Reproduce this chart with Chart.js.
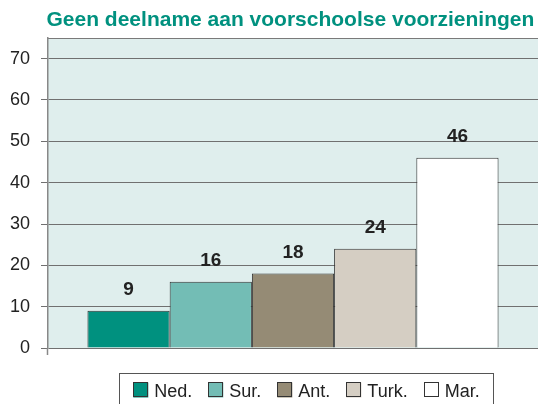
<!DOCTYPE html>
<html>
<head>
<meta charset="utf-8">
<script src="https://cdn.jsdelivr.net/npm/chart.js@4"></script>
<style>
  html, body { margin: 0; padding: 0; background: #ffffff; }
  #wrap { width: 538px; height: 404px; position: relative; overflow: hidden; }
</style>
</head>
<body>
<div id="wrap"><canvas id="c" width="538" height="404"></canvas></div>
<script>
const title = "Geen deelname aan voorschoolse voorzieningen";
const categories = [""];
const seriesNames = ["Ned.", "Sur.", "Ant.", "Turk.", "Mar."];
const seriesValues = [9, 16, 18, 24, 46];
const seriesColors = ["#00917f", "#73bdb5", "#958b75", "#d5cec3", "#ffffff"];
const yTicks = [0, 10, 20, 30, 40, 50, 60, 70];
const yMax = 75;

const FONT = "'Liberation Sans', Arial, Helvetica, sans-serif";

const bgPlugin = {
  id: 'bgPlugin',
  beforeDraw(chart) {
    const { ctx, chartArea: a } = chart;
    ctx.save();
    ctx.fillStyle = '#dfeeed';
    ctx.fillRect(a.left, a.top, a.right - a.left, a.bottom - a.top);
    ctx.strokeStyle = '#7a7a7a';
    ctx.lineWidth = 1;
    ctx.beginPath();
    ctx.moveTo(a.left, a.top + 0.5);
    ctx.lineTo(a.right, a.top + 0.5);
    ctx.stroke();
    ctx.restore();
  },
  afterDraw(chart) {
    const { ctx, chartArea: a } = chart;
    ctx.save();
    // small extension of the value axis below zero
    ctx.strokeStyle = '#888888';
    ctx.lineWidth = 1.5;
    ctx.beginPath();
    ctx.moveTo(a.left - 0.5, a.bottom);
    ctx.lineTo(a.left - 0.5, a.bottom + 7);
    ctx.stroke();
    // title
    ctx.fillStyle = '#00917f';
    ctx.font = 'bold 21px ' + FONT;
    ctx.textAlign = 'left';
    ctx.textBaseline = 'alphabetic';
    ctx.fillText(title, 46.5, 26);
    // legend frame
    const lx = 119.5, ly = 373.5, lw = 374, lh = 40;
    ctx.strokeStyle = '#555555';
    ctx.lineWidth = 1;
    ctx.strokeRect(lx, ly, lw, lh);
    ctx.font = '18px ' + FONT;
    const box = 15, gapText = 6, gapItem = 16;
    let total = 0;
    const widths = seriesNames.map(n => ctx.measureText(n).width);
    widths.forEach((w, i) => { total += box + gapText + w + (i < widths.length - 1 ? gapItem : 0); });
    let x = lx + lw / 2 - total / 2;
    const by = 382.5;
    seriesNames.forEach((n, i) => {
      ctx.fillStyle = seriesColors[i];
      ctx.fillRect(x, by, box, box);
      ctx.strokeStyle = '#333333';
      ctx.strokeRect(Math.round(x) + 0.5, by, box - 1, box - 1);
      ctx.fillStyle = '#222222';
      ctx.textBaseline = 'alphabetic';
      ctx.fillText(n, x + box + gapText, 397);
      x += box + gapText + widths[i] + gapItem;
    });
    ctx.restore();
  }
};

const valueLabels = {
  id: 'valueLabels',
  afterDatasetsDraw(chart) {
    const { ctx } = chart;
    ctx.save();
    ctx.font = 'bold 19px ' + FONT;
    ctx.fillStyle = '#222222';
    ctx.textAlign = 'center';
    ctx.textBaseline = 'middle';
    chart.data.datasets.forEach((ds, i) => {
      const meta = chart.getDatasetMeta(i);
      meta.data.forEach((bar, j) => {
        ctx.fillText(String(ds.data[j]), bar.x, bar.y - 21);
      });
    });
    ctx.restore();
  }
};

new Chart(document.getElementById('c'), {
  type: 'bar',
  data: {
    labels: categories,
    datasets: seriesNames.map((n, i) => ({
      label: n,
      data: [seriesValues[i]],
      backgroundColor: seriesColors[i],
      borderColor: '#333333',
      borderWidth: 1,
      categoryPercentage: 0.839,
      barPercentage: 1.0
    }))
  },
  options: {
    responsive: false,
    animation: false,
    devicePixelRatio: 1,
    layout: { padding: { top: 38, bottom: 56, left: 0, right: 0 } },
    plugins: {
      legend: { display: false },
      title: { display: false },
      tooltip: { enabled: false }
    },
    scales: {
      x: { display: false, offset: true },
      y: {
        min: 0,
        max: yMax,
        afterBuildTicks(scale) {
          scale.ticks = yTicks.map(v => ({ value: v }));
        },
        afterFit(scale) { scale.width = 48; },
        ticks: {
          stepSize: 10,
          padding: 11,
          color: '#222222',
          font: { family: FONT, size: 18 }
        },
        grid: {
          color: '#707070',
          lineWidth: 1,
          tickLength: 7,
          drawTicks: true
        },
        border: { display: true, color: '#888888', width: 1.5 }
      }
    }
  },
  plugins: [bgPlugin, valueLabels]
});
</script>
</body>
</html>
